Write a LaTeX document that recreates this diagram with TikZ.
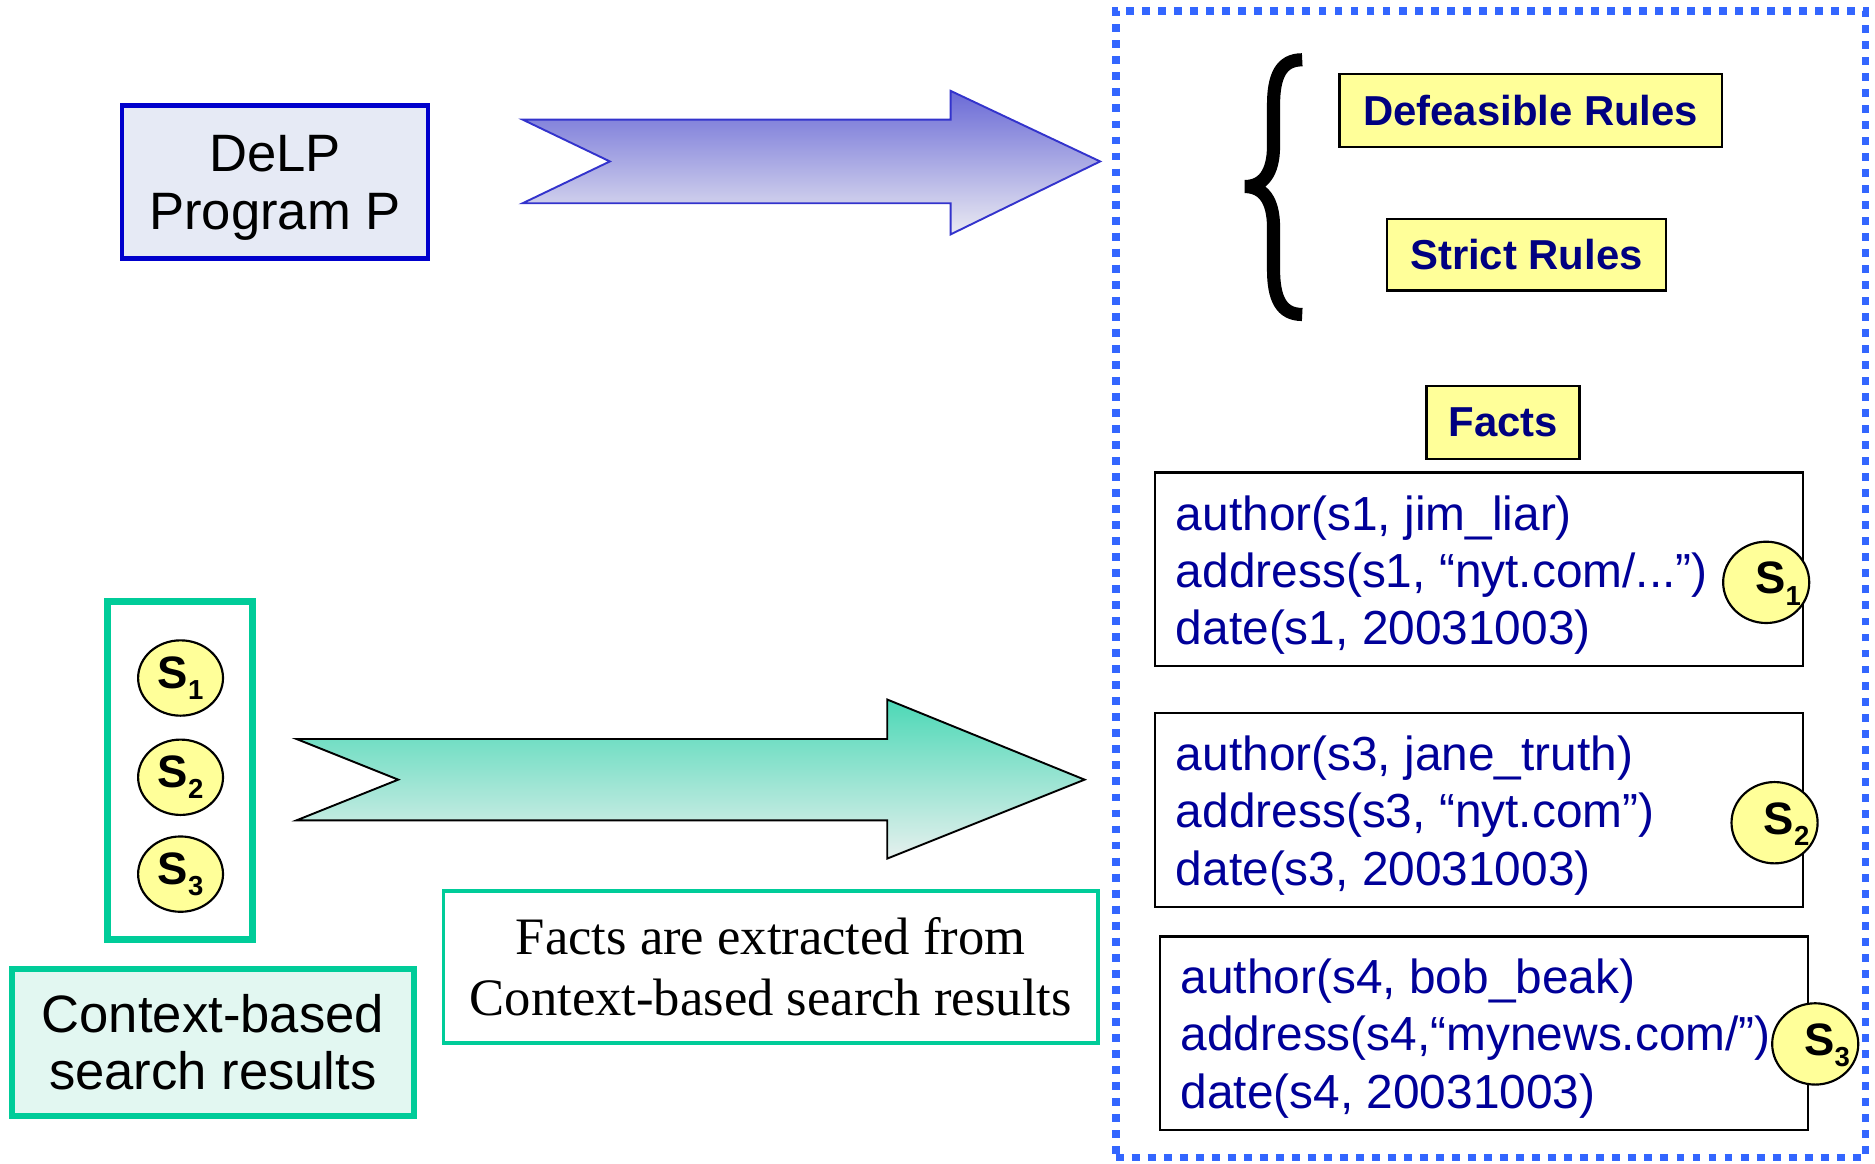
\documentclass[tikz,border=0pt]{standalone}
\usepackage{fontspec}
\setmainfont{Liberation Sans}
\newfontfamily\seriffont{Liberation Serif}
\usetikzlibrary{shapes.geometric}
\definecolor{delpblue}{HTML}{0000CC}
\definecolor{delpfill}{HTML}{E6EAF5}
\definecolor{kbblue}{HTML}{3366FF}
\definecolor{navy}{HTML}{000099}
\definecolor{labnavy}{HTML}{000080}
\definecolor{paleyellow}{HTML}{FFFF99}
\definecolor{teal}{HTML}{00CC99}
\definecolor{mint}{HTML}{E2F7F1}
\definecolor{arrblue}{HTML}{3333CC}
\definecolor{arrbluetop}{HTML}{6A6AD6}
\definecolor{arrbluebot}{HTML}{EAEAF2}
\definecolor{arrgreentop}{HTML}{4CD8B6}
\definecolor{arrgreenbot}{HTML}{E6F0EE}
\tikzset{
  labelbox/.style={draw=black, line width=1pt, fill=paleyellow, text=labnavy,
    font=\fontsize{17.5pt}{20pt}\selectfont\bfseries, inner sep=0pt},
  factbox/.style={draw=black, line width=1pt, fill=white, minimum width=271pt,
    minimum height=81pt, inner sep=0pt},
  facttext/.style={anchor=west, text=navy, align=left,
    font=\fontsize{20pt}{24pt}\selectfont, inner sep=0pt},
  srcdot/.style={ellipse, draw=black, line width=0.9pt, fill=paleyellow, inner sep=0pt},
  srctext/.style={font=\fontsize{19pt}{20pt}\selectfont\bfseries, inner sep=0pt},
}
\newcommand{\srclabel}[1]{S\raisebox{-4.8pt}{\fontsize{11.5pt}{14pt}\selectfont\bfseries #1}}
\begin{document}
\begin{tikzpicture}[x=0.5pt,y=-0.5pt]
\useasboundingbox (0,0) rectangle (1568,973);

% DeLP program
\node[draw=delpblue, line width=2pt, fill=delpfill, minimum width=128pt, minimum height=64pt,
  inner sep=0pt] (delp) at (230,152) {};
\node[align=center, font=\fontsize{22pt}{24pt}\selectfont, inner sep=0pt] (delpt) at (230,157)
  {DeLP\\Program P};

% blue arrow
\path[draw=arrblue, line width=0.8pt, top color=arrbluetop, bottom color=arrbluebot]
  (437,100) -- (795,100) -- (795,76) -- (920,135) -- (795,196) -- (795,170) -- (437,170) -- (510,135) -- cycle;

% knowledge base dotted box
\node[draw=kbblue, line width=3.3pt, dash pattern=on 3.3pt off 3.4pt, minimum width=313.5pt,
  minimum height=479.5pt, inner sep=0pt] (kb) at (1246.5,488.5) {};

% brace
\draw[line width=5.5pt, line cap=butt]
  (1089,50) .. controls (1071,50) and (1065,64) .. (1065,88) -- (1065,122)
  .. controls (1065,145) and (1056,156) .. (1041,156)
  .. controls (1056,156) and (1065,167) .. (1065,190) -- (1065,225)
  .. controls (1065,249) and (1071,263) .. (1089,263);

% rule labels
\node[labelbox, minimum width=160pt, minimum height=30.5pt] (def) at (1280,92.5) {Defeasible Rules};
\node[labelbox, minimum width=116.5pt, minimum height=30pt] (strict) at (1276.5,213) {Strict Rules};
\node[labelbox, minimum width=64pt, minimum height=30.5pt] (facts) at (1257,353.5) {Facts};

% fact boxes
\node[factbox] (f1) at (1237,476) {};
\node[facttext] (f1t) at (983,481) {author(s1, jim\_liar)\\address(s1, “nyt.com/...”)\\date(s1, 20031003)};
\node[factbox] (f2) at (1237,677.5) {};
\node[facttext] (f2t) at (983,682) {author(s3, jane\_truth)\\address(s3, “nyt.com”)\\date(s3, 20031003)};
\node[factbox] (f3) at (1241,864) {};
\node[facttext] (f3t) at (987,868.5) {author(s4, bob\_beak)\\address(s4,“mynews.com/”)\\date(s4, 20031003)};

% source circles on fact boxes
\node[srcdot, minimum width=36pt, minimum height=34pt] (c1) at (1477,487) {};
\node[srctext] (t1) at (1487,488) {\srclabel{1}};
\node[srcdot, minimum width=36pt, minimum height=34pt] (c2) at (1484,688) {};
\node[srctext] (t2) at (1494,689) {\srclabel{2}};
\node[srcdot, minimum width=36pt, minimum height=34pt] (c3) at (1518,873) {};
\node[srctext] (t3) at (1528,874) {\srclabel{3}};

% search results box
\node[draw=teal, line width=3pt, fill=white, minimum width=60.5pt, minimum height=141.5pt,
  inner sep=0pt] (sbox) at (150.5,644.5) {};
\node[srcdot, minimum width=35.5pt, minimum height=31.5pt, srctext] (s1) at (151,567) {\srclabel{1}};
\node[srcdot, minimum width=35.5pt, minimum height=31.5pt, srctext] (s2) at (151,650) {\srclabel{2}};
\node[srcdot, minimum width=35.5pt, minimum height=31.5pt, srctext] (s3) at (151,731) {\srclabel{3}};

\node[draw=teal, line width=2.5pt, fill=mint, minimum width=168pt, minimum height=61.5pt,
  align=center, font=\fontsize{22pt}{24pt}\selectfont, inner sep=0pt] (ctx) at (178,871.5)
  {Context-based\\search results};

% green arrow
\path[draw=black, line width=0.8pt, top color=arrgreentop, bottom color=arrgreenbot]
  (248,618) -- (742,618) -- (742,585) -- (907,652) -- (742,718) -- (742,686) -- (248,686) -- (333,652) -- cycle;

% caption
\node[draw=teal, line width=1.5pt, fill=white, minimum width=273.5pt, minimum height=63.5pt,
  align=center, font=\seriffont\fontsize{22pt}{25.5pt}\selectfont, inner sep=0pt] (cap) at (644.5,808.5)
  {Facts are extracted from\\Context-based search results};
\end{tikzpicture}
\end{document}
